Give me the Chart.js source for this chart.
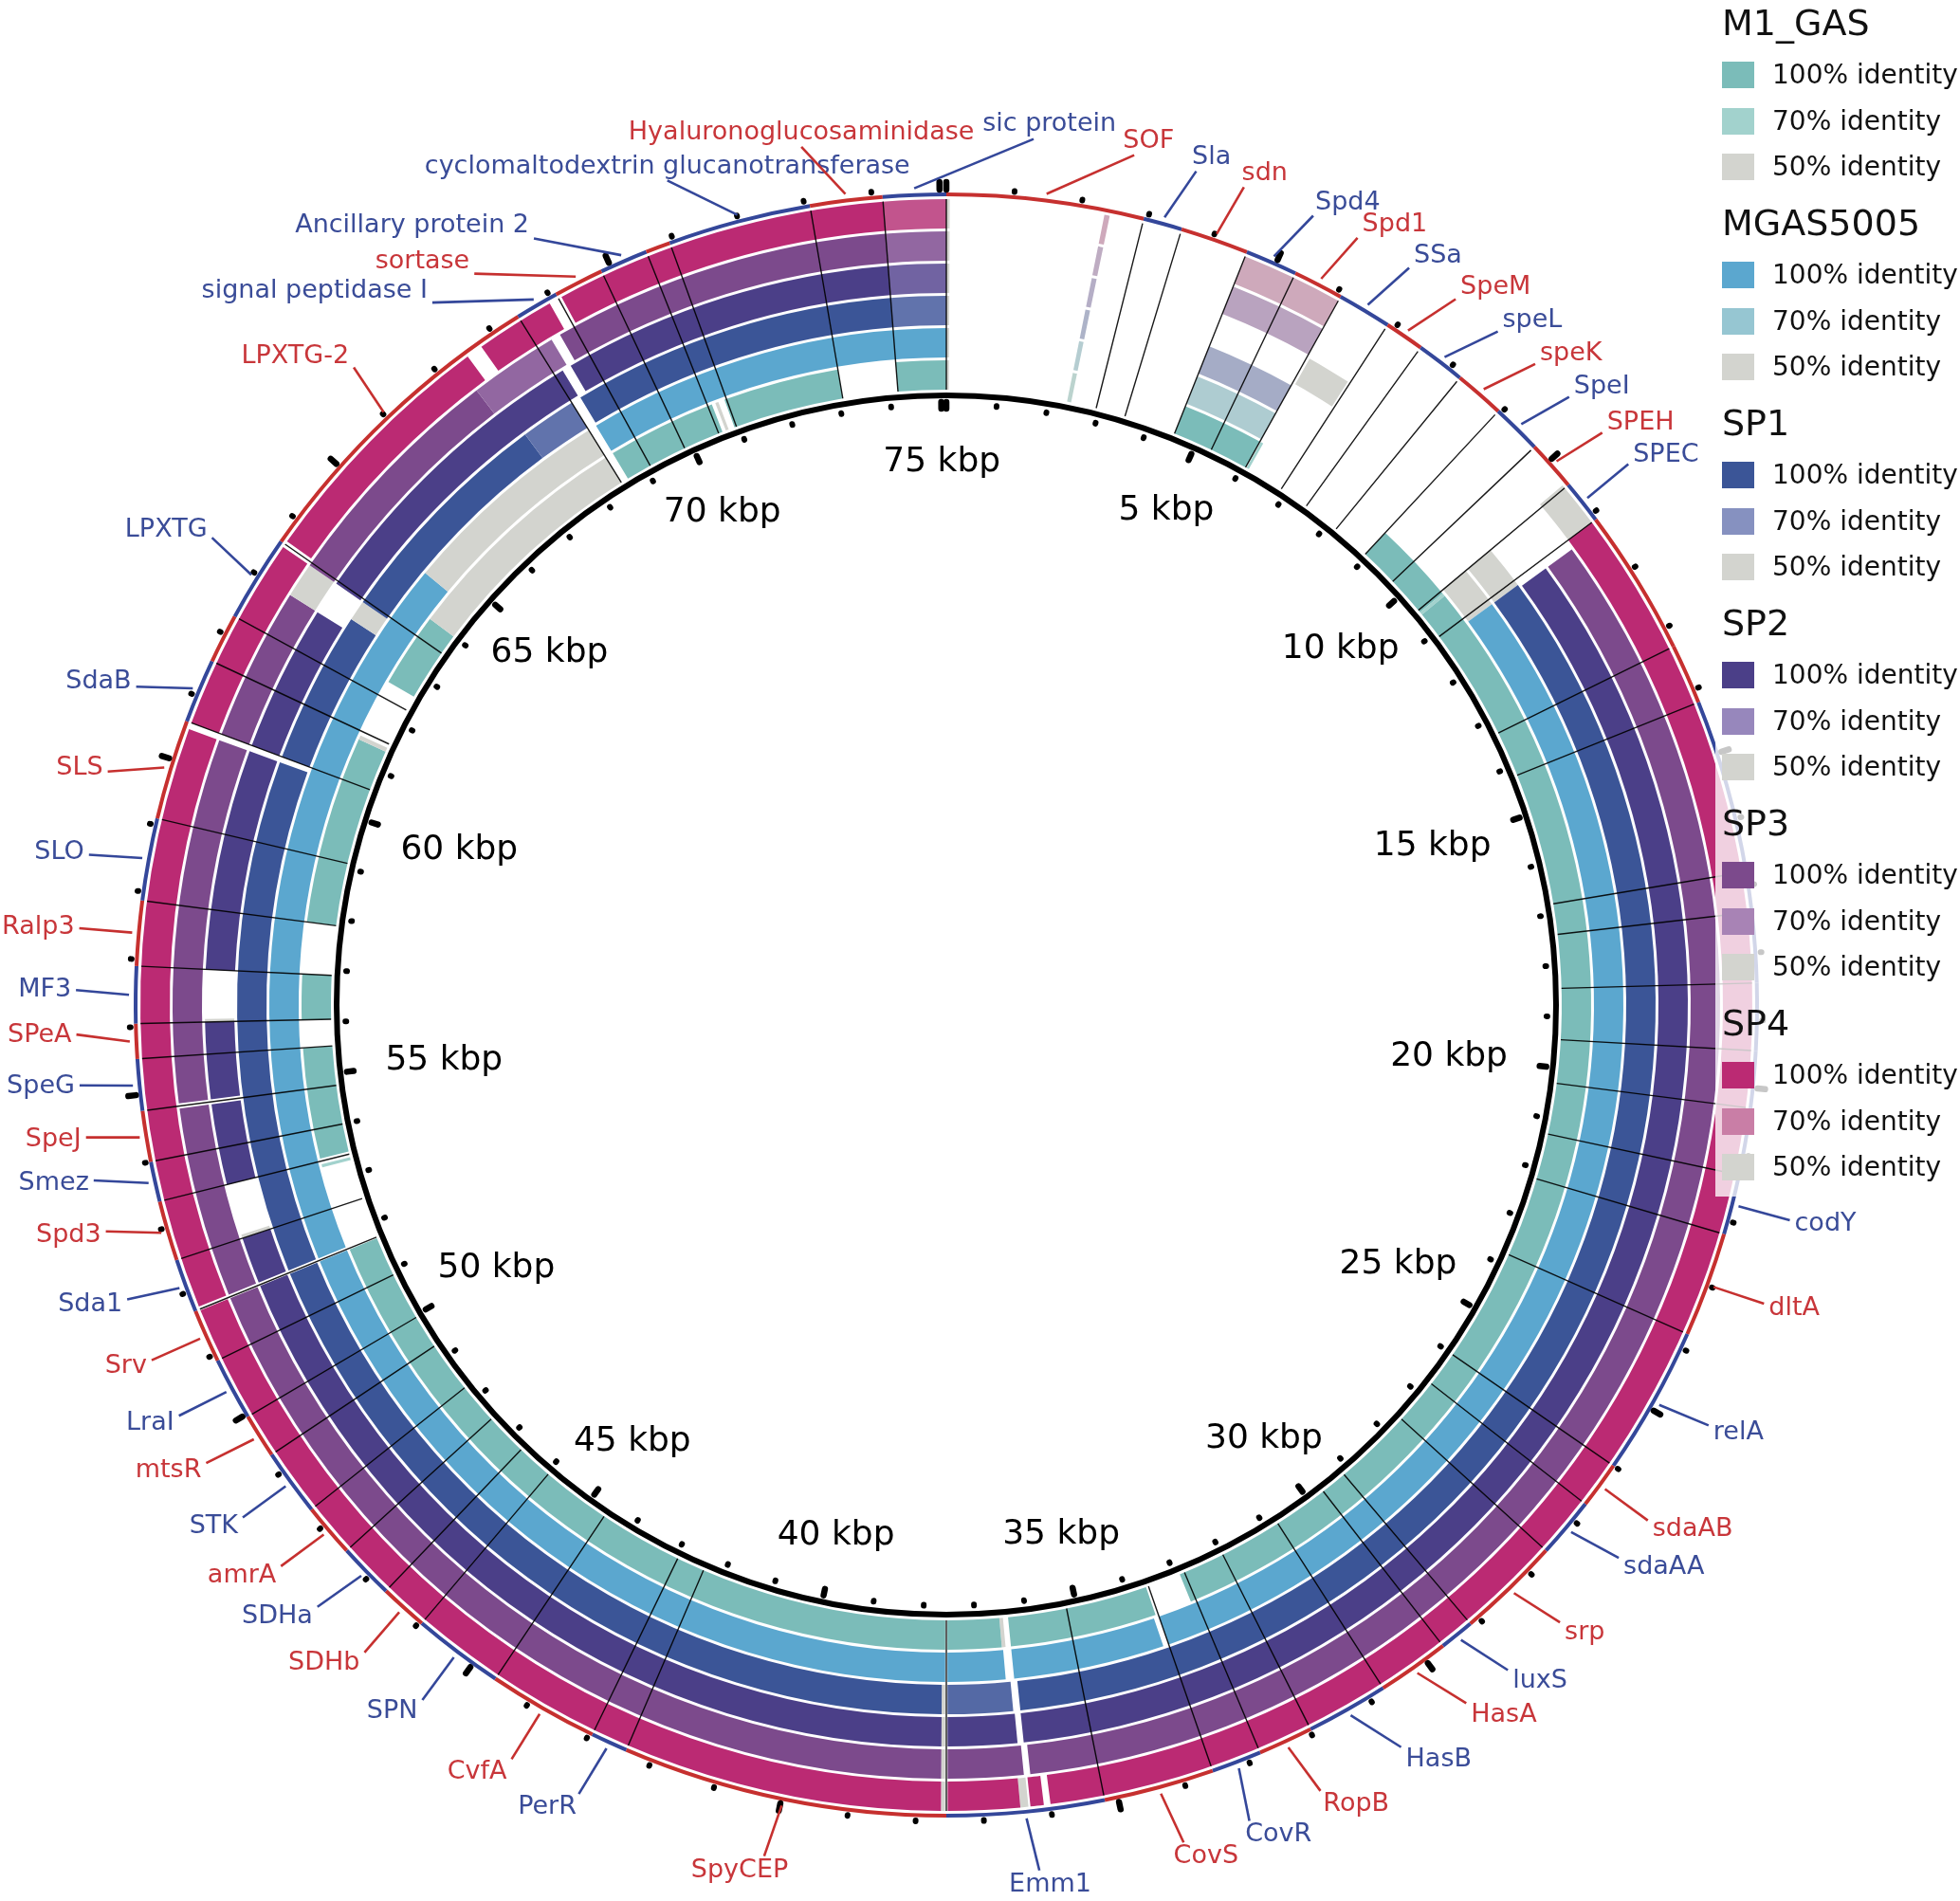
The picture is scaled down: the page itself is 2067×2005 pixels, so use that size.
<!DOCTYPE html>
<html>
<head>
<meta charset="utf-8">
<script src="https://cdn.jsdelivr.net/npm/chart.js@4.4.1/dist/chart.umd.min.js"></script>
<style>
  html, body { margin: 0; padding: 0; background: #fff; }
  #wrap { position: relative; width: 2067px; height: 2005px; font-family: 'DejaVu Sans', sans-serif; }
  #ring { position: absolute; left: 0; top: 0; }
  #legend { position: absolute; left: 1809px; top: 0; width: 258px; height: 1262px; background: rgba(255,255,255,0.78); }
  .lg-head { position: absolute; left: 7px; font-size: 38px; line-height: 44px; color: #111; white-space: nowrap; }
  .lg-box { position: absolute; left: 7px; width: 34px; height: 28px; }
  .lg-text { position: absolute; left: 60px; font-size: 28px; line-height: 34px; color: #111; white-space: nowrap; }
</style>
</head>
<body>
<div id="wrap">
  <canvas id="ring" width="2067" height="2005"></canvas>
  <div id="legend"></div>
</div>
<script>
// Genome length of the reference (kbp) and the ring axis labels
const genomeLength = 75.1;
const kbpLabels = [5, 10, 15, 20, 25, 30, 35, 40, 45, 50, 55, 60, 65, 70, 75];

// Gene annotation ring (outermost), clockwise from 0 kbp
const geneNames = ['SOF', 'Sla', 'sdn', 'Spd4', 'Spd1', 'SSa', 'SpeM', 'speL', 'speK', 'SpeI', 'SPEH', 'SPEC',
    '', '', '', '', '', '', '', '',
    'codY', 'dltA', 'relA', 'sdaAB', 'sdaAA', 'srp', 'luxS', 'HasA', 'HasB', 'RopB', 'CovR', 'CovS', 'Emm1',
    'SpyCEP', 'PerR', 'CvfA', 'SPN', 'SDHb', 'SDHa', 'amrA', 'STK', 'mtsR', 'LraI', 'Srv', 'Sda1', 'Spd3',
    'Smez', 'SpeJ', 'SpeG', 'SPeA', 'MF3', 'Ralp3', 'SLO', 'SLS', 'SdaB', '', 'LPXTG', 'LPXTG-2',
    'signal peptidase I', 'sortase', 'Ancillary protein 2', '', 'cyclomaltodextrin glucanotransferase',
    'Hyaluronoglucosaminidase', 'sic protein'];
const geneEnds = [2.94, 3.52, 4.54, 5.32, 6.07, 6.88, 7.47, 8.2, 8.95, 9.7, 10.45, 11.1,
    13.3, 14.2, 16.8, 17.4, 18.45, 19.45, 20.3, 21.3,
    22.2, 23.77, 26.0, 26.7, 27.6, 29.15, 29.67, 30.75, 31.98, 32.8, 33.55, 35.2, 37.55,
    42.4, 42.95, 44.6, 45.96, 46.67, 47.5, 48.3, 49.3, 49.96, 50.9, 51.7, 52.5, 53.4,
    54.0, 54.76, 55.53, 56.05, 56.9, 57.87, 59.1, 60.6, 61.56, 62.3, 63.6, 68.45,
    69.1, 69.85, 70.57, 70.94, 73.08, 74.16, 75.1];
const geneStrand = ['r', 'b', 'r', 'b', 'r', 'b', 'r', 'b', 'r', 'b', 'r', 'b',
    'r', 'r', 'b', 'b', 'b', 'b', 'b', 'b',
    'b', 'r', 'b', 'r', 'b', 'r', 'b', 'r', 'b', 'r', 'b', 'r', 'b',
    'r', 'b', 'r', 'b', 'r', 'b', 'r', 'b', 'r', 'b', 'r', 'b', 'r',
    'b', 'r', 'b', 'r', 'b', 'r', 'b', 'r', 'b', 'r', 'b', 'r',
    'b', 'r', 'b', 'r', 'b', 'r', 'b'];
// where each label sits (kbp along the circle)
const labelAt = [2.6, 3.48, 4.17, 5.2, 5.88, 6.7, 7.47, 8.2, 8.88, 9.53, 10.2, 10.76,
    null, null, null, null, null, null, null, null,
    21.76, 22.96, 24.8, 26.35, 27.0, 28.2, 29.17, 29.9, 30.98, 32.24, 33.3, 34.25, 36.27,
    40.07, 42.76, 43.8, 45.27, 46.3, 47.2, 47.95, 48.8, 49.7, 50.45, 51.3, 52.2, 53.18,
    53.9, 54.5, 55.22, 55.92, 56.53, 57.38, 58.4, 59.57, 60.8, null, 63.1, 66.15,
    67.55, 68.25, 69.2, null, 71.2, 73.1, 76.3];

// BLAST hits per genome ring: [start kbp, end kbp, % identity]
const m1gasHits = [
    [0, 0.05, 50], [2.36, 2.44, 60], [4.54, 6.07, 100], [6.09, 6.14, 70],
    [8.95, 10.5, 100], [10.5, 10.56, 70], [10.56, 32.9, 100], [33.6, 36.35, 100],
    [36.45, 36.52, 50], [36.52, 37.53, 100], [37.57, 51.68, 100], [53.28, 53.34, 70],
    [53.45, 55.53, 100], [56.05, 56.9, 100], [57.87, 61.4, 100], [61.4, 61.48, 50],
    [62.6, 64.0, 100], [64.0, 68.45, 50], [68.6, 70.65, 100], [70.72, 70.78, 50],
    [70.9, 73.08, 100], [74.16, 75.1, 100]
];
const mgas5005Hits = [
    [0, 0.05, 50], [2.36, 2.44, 60], [4.54, 6.07, 62], [10.45, 11.2, 50], [11.2, 33.55, 100],
    [33.65, 36.35, 100], [36.5, 37.53, 100], [37.57, 51.68, 100], [51.74, 64.6, 100],
    [64.6, 68.45, 50], [68.6, 75.1, 100]
];
const sp1Hits = [
    [0, 0.05, 50], [2.36, 2.44, 60], [4.54, 6.07, 62], [10.45, 11.2, 50], [11.2, 36.3, 100],
    [36.42, 37.53, 90], [37.57, 37.63, 50], [37.63, 51.68, 100], [51.74, 60.5, 100], [60.6, 63.2, 100],
    [63.2, 63.55, 50], [63.55, 67.5, 100], [67.5, 68.45, 85], [68.62, 74.16, 100], [74.16, 75.1, 85]
];
const sp2Hits = [
    [0, 0.05, 50], [2.36, 2.44, 60], [6.12, 6.84, 50], [11.25, 36.3, 100], [36.4, 37.53, 100],
    [37.57, 37.63, 50], [37.63, 51.68, 100], [51.74, 52.5, 100], [52.5, 52.56, 50], [53.4, 54.72, 100],
    [54.8, 56.05, 100], [56.05, 56.1, 50], [56.9, 60.5, 100], [60.6, 63.0, 100], [63.55, 68.6, 100],
    [68.75, 74.16, 100], [74.16, 75.1, 85]
];
const sp3Hits = [
    [0, 0.05, 50], [2.36, 2.44, 60], [4.54, 6.07, 62], [11.25, 36.25, 100], [36.35, 37.53, 100],
    [37.57, 37.63, 50], [37.63, 51.68, 100], [51.74, 54.72, 100], [54.8, 60.5, 100], [60.6, 63.0, 100],
    [63.0, 63.55, 50], [63.55, 67.3, 100], [67.3, 68.7, 85], [68.85, 74.16, 100], [74.16, 75.1, 85]
];
const sp4Hits = [
    [0, 0.05, 50], [2.36, 2.44, 60], [4.54, 6.07, 60], [10.4, 11.1, 50], [11.1, 36.0, 100],
    [36.1, 36.3, 100], [36.33, 36.45, 50], [36.45, 37.53, 100], [37.57, 37.63, 50], [37.63, 51.68, 100],
    [51.74, 60.5, 100], [60.6, 63.55, 100], [63.65, 67.5, 100], [67.75, 68.95, 100], [69.15, 74.16, 100],
    [74.16, 75.1, 85]
];

const ringNames = ['M1_GAS', 'MGAS5005', 'SP1', 'SP2', 'SP3', 'SP4'];
const identityLevels = [100, 70, 50];

// ring colours: [100%, 70%, 50%]
const palette = {
    M1_GAS:   ['#7bbcb9', '#a2d2cd', '#d3d4cf'],
    MGAS5005: ['#5ba7cf', '#96c6d2', '#d3d4cf'],
    SP1:      ['#3b5597', '#8691c0', '#d3d4cf'],
    SP2:      ['#4b3f88', '#9787bc', '#d3d4cf'],
    SP3:      ['#7c4a8c', '#a883b5', '#d3d4cf'],
    SP4:      ['#bb2a73', '#c97ea6', '#d3d4cf']
};
const strandColour = { r: '#c6302f', b: '#34479a' };
const labelColour = { r: '#c8363a', b: '#3a4c98' };

function hexToRgb(h) {
    const n = parseInt(h.slice(1), 16);
    return [(n >> 16) & 255, (n >> 8) & 255, n & 255];
}
function mix(a, b, t) {
    const x = hexToRgb(a), y = hexToRgb(b);
    const c = x.map((v, i) => Math.round(v + (y[i] - v) * t));
    return `rgb(${c[0]},${c[1]},${c[2]})`;
}
function identityColour(ring, id) {
    const [c100, c70, c50] = palette[ring];
    if (id >= 70) return mix(c70, c100, (id - 70) / 30);
    return mix(c50, c70, Math.max(0, id - 50) / 20);
}

// hits -> consecutive arc pieces (gaps left transparent)
function toPieces(ring, hits) {
    const data = [], colours = [];
    let pos = 0;
    hits.forEach(([s, e, id]) => {
        if (s > pos + 1e-9) { data.push(s - pos); colours.push('rgba(0,0,0,0)'); }
        data.push(e - s);
        colours.push(identityColour(ring, id));
        pos = e;
    });
    if (pos < genomeLength - 1e-9) { data.push(genomeLength - pos); colours.push('rgba(0,0,0,0)'); }
    return { data, colours };
}

function spacer(w) {
    return { data: [genomeLength], backgroundColor: 'rgba(0,0,0,0)', borderWidth: 0, weight: w };
}
function ringDataset(ring, hits) {
    const p = toPieces(ring, hits);
    return { label: ring, data: p.data, backgroundColor: p.colours, borderWidth: 0, weight: 31 };
}

const geneLengths = geneEnds.map((e, i) => e - (i === 0 ? 0 : geneEnds[i - 1]));

const datasets = [
    { label: 'genes', data: geneLengths, backgroundColor: geneStrand.map(s => strandColour[s]), borderWidth: 0, weight: 4 },
    spacer(3),
    ringDataset('SP4', sp4Hits), spacer(3),
    ringDataset('SP3', sp3Hits), spacer(3),
    ringDataset('SP2', sp2Hits), spacer(3),
    ringDataset('SP1', sp1Hits), spacer(3),
    ringDataset('MGAS5005', mgas5005Hits), spacer(3),
    ringDataset('M1_GAS', m1gasHits)
];

const clamp = (v, lo, hi) => Math.max(lo, Math.min(hi, v));

// axis circle, ticks, kbp labels, gene boundaries and gene labels
const ringDecor = {
    id: 'ringDecor',
    afterDatasetsDraw(chart) {
        const ctx = chart.ctx;
        const genes = chart.getDatasetMeta(0);
        const sp4 = chart.getDatasetMeta(2);
        const m1 = chart.getDatasetMeta(chart.data.datasets.length - 1);
        const first = genes.data[0];
        const cx = first.x, cy = first.y;
        const a0 = first.startAngle;
        const total = genes.total;
        const angleAt = kbp => a0 + kbp / total * Math.PI * 2;
        const rIn = m1.data[0].innerRadius;
        const rRings = sp4.data[0].outerRadius;
        const rGene = first.outerRadius;

        const radial = (a, r1, r2) => {
            ctx.moveTo(cx + r1 * Math.cos(a), cy + r1 * Math.sin(a));
            ctx.lineTo(cx + r2 * Math.cos(a), cy + r2 * Math.sin(a));
        };

        ctx.save();

        // gene boundary lines through the rings
        ctx.beginPath();
        genes.data.forEach(arc => radial(arc.startAngle, rIn, rRings));
        ctx.strokeStyle = 'rgba(0,0,0,0.9)';
        ctx.lineWidth = 1.4;
        ctx.stroke();

        // inner axis circle
        const rAxis = rIn - 6;
        ctx.beginPath();
        ctx.arc(cx, cy, rAxis, 0, Math.PI * 2);
        ctx.strokeStyle = '#000';
        ctx.lineWidth = 6;
        ctx.stroke();

        // ticks every kbp: small dots inside the axis and outside the gene ring
        ctx.lineCap = 'round';
        for (let k = 0; k <= Math.floor(genomeLength); k++) {
            const major = k % 5 === 0;
            const a = angleAt(k);
            ctx.beginPath();
            if (major) {
                radial(a, rAxis - 7, rAxis - 14);
                radial(a, rGene + 3, rGene + 11);
            } else {
                radial(a, rAxis - 9, rAxis - 10);
                radial(a, rGene + 3.5, rGene + 4.5);
            }
            ctx.lineWidth = major ? 6.5 : 6;
            ctx.stroke();
        }

        // kbp labels
        ctx.fillStyle = '#000';
        ctx.font = '36px "DejaVu Sans"';
        ctx.textAlign = 'center';
        ctx.textBaseline = 'middle';
        kbpLabels.forEach(v => {
            const a = angleAt(v);
            const s = Math.sin(a + Math.PI / 2);
            const r = 572 - 40 * Math.pow(s, 4);
            ctx.fillText(v + ' kbp', cx + r * Math.cos(a), cy + r * Math.sin(a));
        });

        // leader lines and gene names
        ctx.font = '27px "DejaVu Sans"';
        ctx.lineCap = 'butt';
        genes.data.forEach((arc, i) => {
            if (!geneNames[i] || labelAt[i] === null) return;
            const mid = (arc.startAngle + arc.endAngle) / 2;
            const la = angleAt(labelAt[i]);
            const r1 = rGene + 5, r2 = rGene + 61;
            const ex = cx + r2 * Math.cos(la), ey = cy + r2 * Math.sin(la);
            ctx.beginPath();
            ctx.moveTo(cx + r1 * Math.cos(mid), cy + r1 * Math.sin(mid));
            ctx.lineTo(ex, ey);
            ctx.strokeStyle = strandColour[geneStrand[i]];
            ctx.lineWidth = 2.6;
            ctx.stroke();

            const th = la + Math.PI / 2;
            const s = Math.sin(th);
            const w = ctx.measureText(geneNames[i]).width, h = 26;
            // long names near the top are centred over the line end
            const fx = (Math.abs(s) < 0.4 && w > 150) ? 0 : clamp(s * 2.2, -1, 1);
            const fy = -Math.cos(th) * 0.85;
            ctx.fillStyle = labelColour[geneStrand[i]];
            ctx.fillText(geneNames[i], ex + fx * (w / 2 + 5), ey + fy * (h / 2 + 5));
        });

        ctx.restore();
    }
};

new Chart(document.getElementById('ring'), {
    type: 'doughnut',
    data: { labels: geneNames, datasets: datasets },
    options: {
        responsive: false,
        animation: false,
        events: [],
        cutout: (649 / 857 * 100) + '%',
        radius: 857,
        layout: { padding: { left: 0, right: 71, top: 115, bottom: 0 } },
        plugins: {
            legend: { display: false },
            tooltip: { enabled: false }
        }
    },
    plugins: [ringDecor]
});

// legend: one header per genome, then the three identity swatches
const legend = document.getElementById('legend');
ringNames.forEach((ring, g) => {
    const top = 24 + 211 * g;
    const head = document.createElement('div');
    head.className = 'lg-head';
    head.style.top = (top - 22) + 'px';
    head.textContent = ring;
    legend.appendChild(head);
    identityLevels.forEach((lvl, j) => {
        const cy = top + 55 + 48.5 * j;
        const box = document.createElement('div');
        box.className = 'lg-box';
        box.style.top = (cy - 14) + 'px';
        box.style.background = palette[ring][j];
        legend.appendChild(box);
        const txt = document.createElement('div');
        txt.className = 'lg-text';
        txt.style.top = (cy - 17) + 'px';
        txt.textContent = lvl + '% identity';
        legend.appendChild(txt);
    });
});
</script>
</body>
</html>
